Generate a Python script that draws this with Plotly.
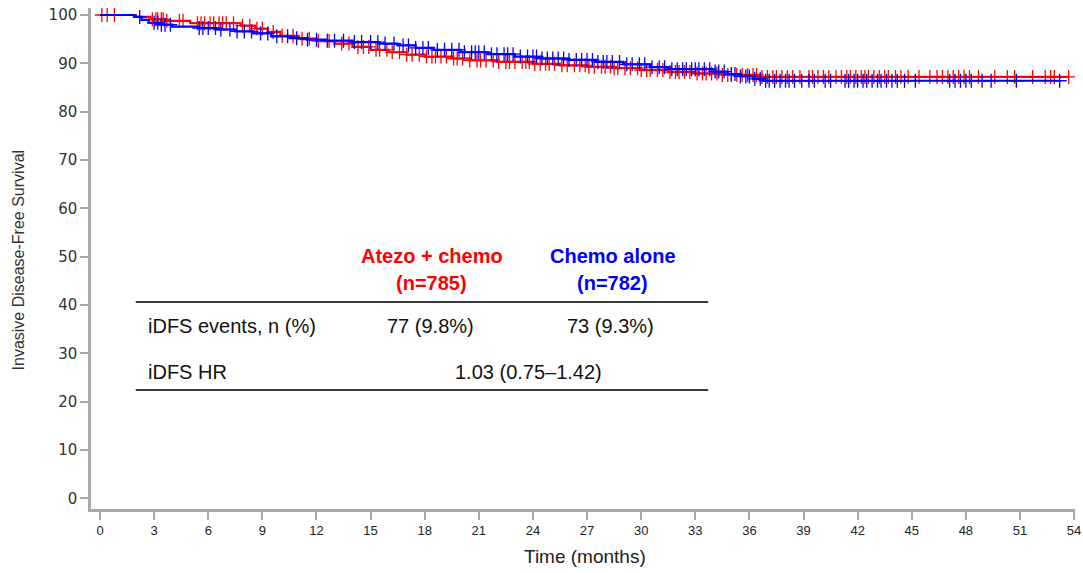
import numpy as np
import plotly.graph_objects as go

# ---- Data ----
x_ticks = [0, 3, 6, 9, 12, 15, 18, 21, 24, 27, 30, 33, 36, 39, 42, 45, 48, 51, 54]
y_ticks = [0, 10, 20, 30, 40, 50, 60, 70, 80, 90, 100]

red_name = "Atezo + chemo"
blue_name = "Chemo alone"

red_time = [0, 2.0, 2.8, 3.6, 5.0, 7.8, 8.6, 9.3, 10.0, 11.0, 12.0, 13.0, 14.0, 15.0,
            16.0, 17.0, 18.0, 19.5, 20.5, 22.0, 24.0, 25.5, 27.0, 28.5, 30.0, 31.5,
            33.0, 34.5, 36.5, 53.7]
red_surv = [100, 99.6, 99.1, 98.8, 98.3, 97.8, 97.2, 96.5, 95.7, 95.1, 94.6, 94.1, 93.4,
            92.8, 92.3, 91.8, 91.4, 91.0, 90.6, 90.3, 89.9, 89.6, 89.3, 89.0, 88.6, 88.2,
            87.9, 87.6, 87.2, 87.2]

blue_time = [0, 1.9, 2.3, 2.7, 3.3, 4.0, 5.5, 6.5, 7.5, 8.5, 9.5, 10.5, 11.5, 12.5, 14.0,
             15.5, 16.5, 17.5, 18.5, 20.0, 21.5, 23.0, 24.5, 26.0, 27.5, 29.0, 30.5, 31.5,
             34.0, 34.8, 35.5, 36.2, 36.8, 53.2]
blue_surv = [100, 99.6, 99.0, 98.4, 98.0, 97.6, 97.3, 97.0, 96.6, 96.2, 95.6, 95.2, 94.9,
             94.7, 94.4, 94.1, 93.7, 93.2, 92.8, 92.3, 91.9, 91.4, 91.0, 90.7, 90.3, 89.8,
             89.2, 88.8, 88.3, 87.8, 87.3, 86.8, 86.4, 86.4]

red_censor = [0.1, 0.4, 0.8, 2.9, 3.1, 3.2, 3.4, 3.5, 3.7, 4.4, 4.6, 5.4, 5.6, 5.8, 6.1, 6.3,
              6.6, 6.8, 7.0, 7.4, 7.9, 8.3, 8.7, 9.0, 9.6, 10.1, 10.7, 11.2, 11.6, 12.1, 12.7,
              13.4, 13.8, 14.3, 14.6, 14.9, 15.3, 15.5, 15.9, 16.2, 16.6, 17.0, 17.3, 17.7,
              18.1, 18.4, 18.6, 18.9, 19.2, 19.6, 19.8, 20.1, 20.5, 20.9, 21.1, 21.4, 21.8,
              22.1, 22.5, 22.7, 23.0, 23.4, 23.6, 23.8, 24.1, 24.4, 24.7, 24.9, 25.2, 25.6,
              25.9, 26.3, 26.6, 26.9, 27.1, 27.4, 27.8, 28.0, 28.3, 28.5, 28.7, 29.1, 29.4,
              29.8, 30.0, 30.3, 30.5, 30.9, 31.2, 31.6, 31.9, 32.1, 32.4, 32.7, 33.1, 33.4,
              33.6, 33.9, 34.2, 34.5, 34.8, 35.0, 35.3, 35.6, 35.9, 36.2, 36.4, 36.7, 37.0,
              37.3, 37.5, 37.8, 38.1, 38.4, 38.8, 39.3, 39.5, 39.8, 40.1, 40.4, 40.8, 41.1,
              41.4, 41.6, 41.9, 42.2, 42.4, 42.6, 42.9, 43.2, 43.5, 43.7, 44.1, 44.4, 44.8,
              45.4, 46.0, 46.4, 46.7, 47.0, 47.3, 47.6, 47.9, 48.2, 48.7, 49.6, 50.3, 50.7,
              51.7, 52.4, 52.7, 52.9, 53.7]

blue_censor = [2.2, 3.0, 3.2, 3.4, 3.6, 3.9, 5.5, 5.7, 6.0, 6.4, 6.7, 7.2, 7.6, 8.0, 8.4,
               8.9, 9.3, 9.8, 10.4, 10.9, 11.5, 12.0, 12.6, 13.0, 13.5, 14.1, 14.5, 15.0,
               15.4, 15.8, 16.3, 16.8, 17.1, 17.5, 17.9, 18.2, 18.7, 19.1, 19.5, 19.9, 20.2,
               20.6, 20.8, 21.0, 21.3, 21.7, 22.0, 22.4, 22.6, 22.9, 23.3, 23.7, 24.0, 24.2,
               24.5, 24.8, 25.1, 25.4, 25.7, 26.0, 26.4, 26.7, 27.0, 27.3, 27.6, 27.9, 28.1,
               28.4, 28.8, 29.2, 29.5, 29.9, 30.2, 30.6, 31.0, 31.3, 31.7, 32.0, 32.3, 32.5,
               32.8, 33.0, 33.2, 33.5, 33.8, 34.1, 34.3, 34.6, 35.0, 35.2, 35.5, 35.8, 36.0,
               36.3, 36.6, 36.9, 37.1, 37.4, 37.7, 38.0, 38.2, 38.5, 38.9, 39.3, 39.6, 40.2,
               40.5, 41.3, 41.5, 41.8, 42.0, 42.3, 42.5, 42.8, 43.1, 43.3, 43.6, 43.9, 44.2,
               44.6, 45.2, 47.1, 47.4, 47.7, 48.0, 48.3, 48.9, 49.4, 50.8, 53.2]

table_header_red = ["Atezo + chemo", "(n=785)"]
table_header_blue = ["Chemo alone", "(n=782)"]
row_labels = ["iDFS events, n (%)", "iDFS HR"]
events_red = "77 (9.8%)"
events_blue = "73 (9.3%)"
hr_text = "1.03 (0.75–1.42)"

RED = "#ff0000"
BLUE = "#0000ff"
AXIS = "#a8a8a8"
FONT = "Liberation Sans, Arial, sans-serif"


def step_value(times, surv, t):
    idx = np.searchsorted(np.array(times), np.array(t), side="right") - 1
    return np.array(surv)[idx]


fig = go.Figure()
for times, surv, cens, color, name in [
    (red_time, red_surv, red_censor, RED, red_name),
    (blue_time, blue_surv, blue_censor, BLUE, blue_name),
]:
    fig.add_trace(go.Scatter(x=times, y=surv, mode="lines", line=dict(color=color, width=2.2, shape="hv"),
                             name=name, showlegend=False))
    fig.add_trace(go.Scatter(x=cens, y=step_value(times, surv, cens), mode="markers",
                             marker=dict(symbol="cross-thin", size=10, line=dict(color=color, width=1.3)),
                             name=name + " censored", showlegend=False))

# ---- Layout ----
W, H = 1083, 573
L, R, T, B = 91, 2, 8, 64
pw, ph = W - L - R, H - T - B


def px(x):
    return (x - L) / pw


def py(y):
    return (H - B - y) / ph


fig.update_layout(
    width=W, height=H,
    margin=dict(l=L, r=R, t=T, b=B),
    paper_bgcolor="white", plot_bgcolor="white",
    font=dict(family=FONT, color="#333"),
)
fig.update_xaxes(range=[-0.5, 54.05], tickvals=x_ticks, ticktext=[str(v) for v in x_ticks],
                 showgrid=False, zeroline=False, showline=True, linecolor=AXIS, linewidth=2.5,
                 ticks="outside", ticklen=8, tickwidth=2, tickcolor=AXIS, ticklabeloverflow="allow",
                 tickfont=dict(family=FONT, size=13, color="#222"))
fig.update_yaxes(range=[-2.2, 101.45], tickvals=y_ticks, ticktext=[str(v) for v in y_ticks],
                 showgrid=False, zeroline=False, showline=True, linecolor=AXIS, linewidth=2.5,
                 ticks="outside", ticklen=8, tickwidth=2, tickcolor=AXIS,
                 tickfont=dict(family="DejaVu Sans, sans-serif", size=15, color="#333"))

ann = []
ann.append(dict(text="Time (months)", x=px(588), y=py(556), xref="paper", yref="paper",
                showarrow=False, font=dict(size=19, color="#222"), xanchor="center", yanchor="middle"))
ann.append(dict(text="Invasive Disease-Free Survival", x=px(18), y=py(260), xref="paper", yref="paper",
                showarrow=False, textangle=-90, font=dict(size=16, color="#333"),
                xanchor="center", yanchor="middle"))

# table
tf = 20
ann.append(dict(text="<b>%s</b>" % table_header_red[0], x=px(434), y=py(256), font=dict(size=tf, color=RED)))
ann.append(dict(text="<b>%s</b>" % table_header_red[1], x=px(434), y=py(283), font=dict(size=tf, color=RED)))
ann.append(dict(text="<b>%s</b>" % table_header_blue[0], x=px(616), y=py(256), font=dict(size=tf, color=BLUE)))
ann.append(dict(text="<b>%s</b>" % table_header_blue[1], x=px(616), y=py(283), font=dict(size=tf, color=BLUE)))
ann.append(dict(text=row_labels[0], x=px(146), y=py(326), xanchor="left", font=dict(size=tf, color="#111")))
ann.append(dict(text=events_red, x=px(433), y=py(326), font=dict(size=tf, color="#111")))
ann.append(dict(text=events_blue, x=px(614), y=py(326), font=dict(size=tf, color="#111")))
ann.append(dict(text=row_labels[1], x=px(146), y=py(372), xanchor="left", font=dict(size=tf, color="#111")))
ann.append(dict(text=hr_text, x=px(531), y=py(372), font=dict(size=tf, color="#111")))
for a in ann:
    a.setdefault("xref", "paper")
    a.setdefault("yref", "paper")
    a.setdefault("showarrow", False)
    a.setdefault("xanchor", "center")
    a.setdefault("yanchor", "middle")
fig.update_layout(annotations=ann)

for yy in (302, 390):
    fig.add_shape(type="line", xref="paper", yref="paper", x0=px(136), x1=px(712), y0=py(yy), y1=py(yy),
                  line=dict(color="#3a3a3a", width=2))

fig.write_html("out.html")
